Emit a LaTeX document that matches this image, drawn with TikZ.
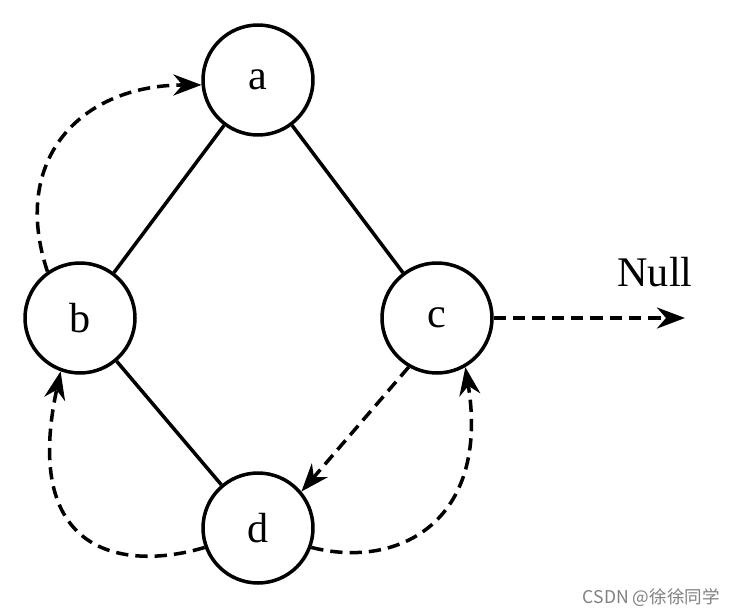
\documentclass[tikz,border=0pt]{standalone}
\usepackage{fontspec}
\setmainfont{Liberation Serif}
\newfontfamily\cjk{Noto Sans CJK SC}
\usetikzlibrary{arrows.meta}
\begin{document}
\begin{tikzpicture}[x=0.02cm,y=-0.02cm,
  vx/.style={circle,draw,line width=2pt,minimum size=2.2cm,inner sep=0pt,font=\fontsize{24}{26}\selectfont},
  ed/.style={line width=2pt},
  da/.style={line width=2pt,dash pattern=on 7pt off 4pt,-{Stealth[length=16pt,width=12pt]}}]
\useasboundingbox (0,0) rectangle (733,615);
\node[vx] (a) at (258,80) {a};
\node[vx] (b) at (80,318) {b};
\node[vx] (c) at (437,318) {c};
\node[vx] (d) at (258,528) {d};
\draw[ed] (a) -- (b);
\draw[ed] (a) -- (c);
\draw[ed] (b) -- (d);
\draw[da] (b.125) .. controls (10,160) and (80,85) .. (a.185);
\draw[da] (c.240) -- (d.40);
\draw[da] (d.200) .. controls (130,570) and (20,560) .. (b.250);
\draw[da] (d.340) .. controls (400,570) and (490,520) .. (c.300);
\coordinate (n) at (685,318);
\draw[da] (c.east) -- (n);
\node[font=\fontsize{24}{26}\selectfont] (null) at (655,272) {Null};
\node[font=\cjk\fontsize{10}{12}\selectfont,text=gray,anchor=east] (wm) at (726,598) {CSDN @徐徐同学};
\end{tikzpicture}
\end{document}
